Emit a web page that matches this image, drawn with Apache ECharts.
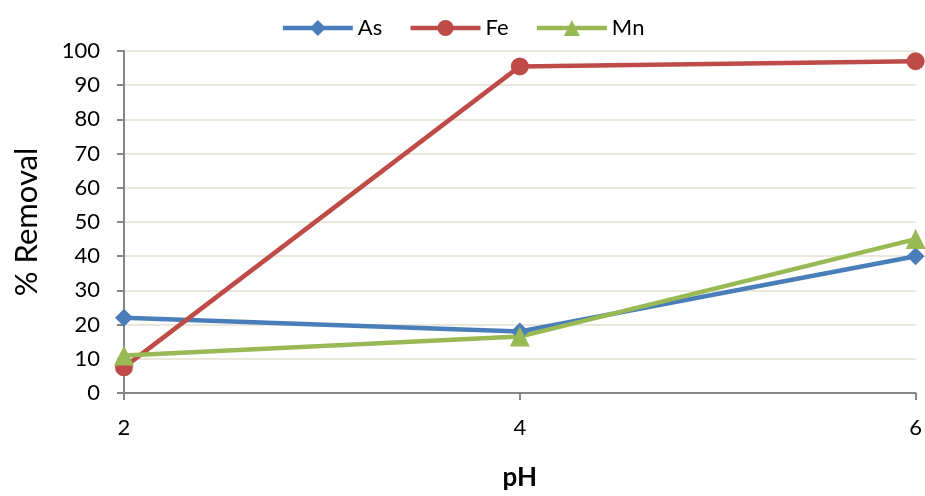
<!DOCTYPE html>
<html>
<head>
<meta charset="utf-8">
<script src="https://cdn.jsdelivr.net/npm/echarts@6/dist/echarts.min.js"></script>
<style>
  html, body { margin: 0; padding: 0; background: #ffffff; }
  #chart { width: 925px; height: 496px; }
</style>
</head>
<body>
<div id="chart"></div>
<script>
// pH values along the x axis
const phValues = [2, 4, 6];
// Percent removal for each element
const asRemoval = [22, 18, 40];
const feRemoval = [7.5, 95.5, 97];
const mnRemoval = [11, 16.5, 45];

const FONT = 'Lato, "Open Sans", sans-serif';

function pairs(ys) {
  return phValues.map((x, i) => [x, ys[i]]);
}

function lineSeries(name, ys, color, symbol, size) {
  return {
    name: name,
    type: 'line',
    data: pairs(ys),
    symbol: symbol,
    symbolSize: size,
    showSymbol: true,
    lineStyle: { color: color, width: 4.5 },
    itemStyle: { color: color },
    emphasis: { disabled: true },
    z: 3
  };
}

const chart = echarts.init(document.getElementById('chart'), null, { renderer: 'canvas' });
chart.setOption({
  animation: false,
  backgroundColor: '#ffffff',
  textStyle: { fontFamily: FONT },
  legend: {
    top: 12,
    left: 'center',
    itemWidth: 70,
    itemHeight: 20,
    itemGap: 26,
    lineStyle: { width: 4.5 },
    textStyle: { fontFamily: FONT, fontSize: 22, color: '#000000' },
    data: ['As', 'Fe', 'Mn']
  },
  grid: { left: 124, right: 7, top: 51, bottom: 96 },
  xAxis: {
    type: 'value',
    min: 2,
    max: 6,
    interval: 2,
    name: 'pH',
    nameLocation: 'middle',
    nameGap: 72,
    nameTextStyle: { fontFamily: FONT, fontSize: 26, fontWeight: 'bold', color: '#000000' },
    axisLine: { show: true, lineStyle: { color: '#868686', width: 2 } },
    axisTick: { show: true, length: 7, lineStyle: { color: '#868686', width: 2 } },
    axisLabel: { fontFamily: FONT, fontSize: 22, color: '#000000', margin: 24 },
    splitLine: { show: false }
  },
  yAxis: {
    type: 'value',
    min: 0,
    max: 100,
    interval: 10,
    name: '% Removal',
    nameLocation: 'middle',
    nameGap: 82,
    nameRotate: 90,
    nameTextStyle: { fontFamily: FONT, fontSize: 31, color: '#000000' },
    axisLine: { show: true, lineStyle: { color: '#868686', width: 2 } },
    axisTick: { show: true, length: 7, lineStyle: { color: '#868686', width: 2 } },
    axisLabel: { fontFamily: FONT, fontSize: 22, color: '#000000', margin: 24 },
    splitLine: { show: true, lineStyle: { color: '#e3dfcf', width: 1.5 } }
  },
  series: [
    lineSeries('As', asRemoval, '#4a7ebb', 'diamond', 18),
    lineSeries('Fe', feRemoval, '#be4b48', 'circle', 18),
    lineSeries('Mn', mnRemoval, '#98b954', 'triangle', 20)
  ]
});
</script>
</body>
</html>
